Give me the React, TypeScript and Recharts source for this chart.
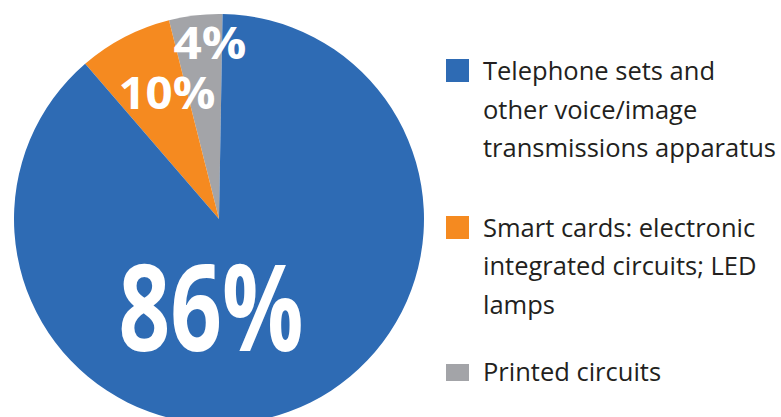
import { PieChart, Pie, Cell, Legend } from "recharts"

// order follows the pie counter-clockwise from 12 o'clock
const categories = [
  "Printed circuits",
  "Smart cards: electronic integrated circuits; LED lamps",
  "Telephone sets and other voice/image transmissions apparatus",
]
// slice sizes as drawn (share of the circle, %)
const shares = [4.2, 7.4, 88.4]
// printed labels
const labels = ["4%", "10%", "86%"]
const colors = ["#a3a4a8", "#f58a20", "#2e6bb4"]

// legend is listed top-down: blue, orange, gray
const legendOrder = [2, 1, 0]
const legendLines = [
  ["Printed circuits"],
  ["Smart cards: electronic", "integrated circuits; LED", "lamps"],
  ["Telephone sets and", "other voice/image", "transmissions apparatus"],
]
const legendGaps = [41, 29, 0]

const data = categories.map((name, i) => ({ name, value: shares[i], label: labels[i] }))

// label placement per slice, offset from the pie centre
const labelOffsets = [
  { dx: -9, dy: -177, size: 44, width: 73 },
  { dx: -52, dy: -127, size: 44, width: 97 },
  { dx: -8, dy: 85, size: 120, width: 185 },
]

const renderLabel = (props: any) => {
  const { cx, cy, index } = props
  const o = labelOffsets[index]
  return (
    <text
      x={cx + o.dx}
      y={cy + o.dy}
      fill="#fff"
      fontSize={o.size}
      fontWeight={700}
      fontFamily="'Open Sans', sans-serif"
      textAnchor="middle"
      dominantBaseline="central"
      textLength={o.width}
      lengthAdjust="spacingAndGlyphs"
    >
      {labels[index]}
    </text>
  )
}

const LegendContent = () => (
  <div style={{ fontFamily: "'Open Sans', sans-serif", fontSize: 25.5, color: "#231f20" }}>
    {legendOrder.map((idx, k) => (
      <div key={idx} style={{ display: "flex", alignItems: "flex-start", marginBottom: legendGaps[k] }}>
        <div
          style={{
            width: 23,
            height: idx === 0 ? 17 : 23,
            background: colors[idx],
            marginTop: idx === 0 ? 12 : 8,
            marginRight: 14,
            flexShrink: 0,
          }}
        />
        <div style={{ lineHeight: "38.5px", whiteSpace: "nowrap" }}>
          {legendLines[idx].map((line) => (
            <div key={line}>{line}</div>
          ))}
        </div>
      </div>
    ))}
  </div>
)

export default function App() {
  return (
    <div style={{ position: "absolute", left: 0, top: 0, background: "#fff" }}>
      <PieChart width={781} height={417} margin={{ top: 0, right: 0, bottom: 0, left: 0 }}>
        <Pie
          data={data}
          dataKey="value"
          nameKey="name"
          cx={219}
          cy={219}
          outerRadius={205}
          startAngle={89}
          endAngle={449}
          stroke="none"
          label={renderLabel}
          labelLine={false}
          isAnimationActive={false}
        >
          {data.map((d, i) => (
            <Cell key={d.name} fill={colors[i]} />
          ))}
        </Pie>
        <Legend
          content={<LegendContent />}
          wrapperStyle={{ position: "absolute", left: 446, top: 51, width: 335 }}
        />
      </PieChart>
    </div>
  )
}
